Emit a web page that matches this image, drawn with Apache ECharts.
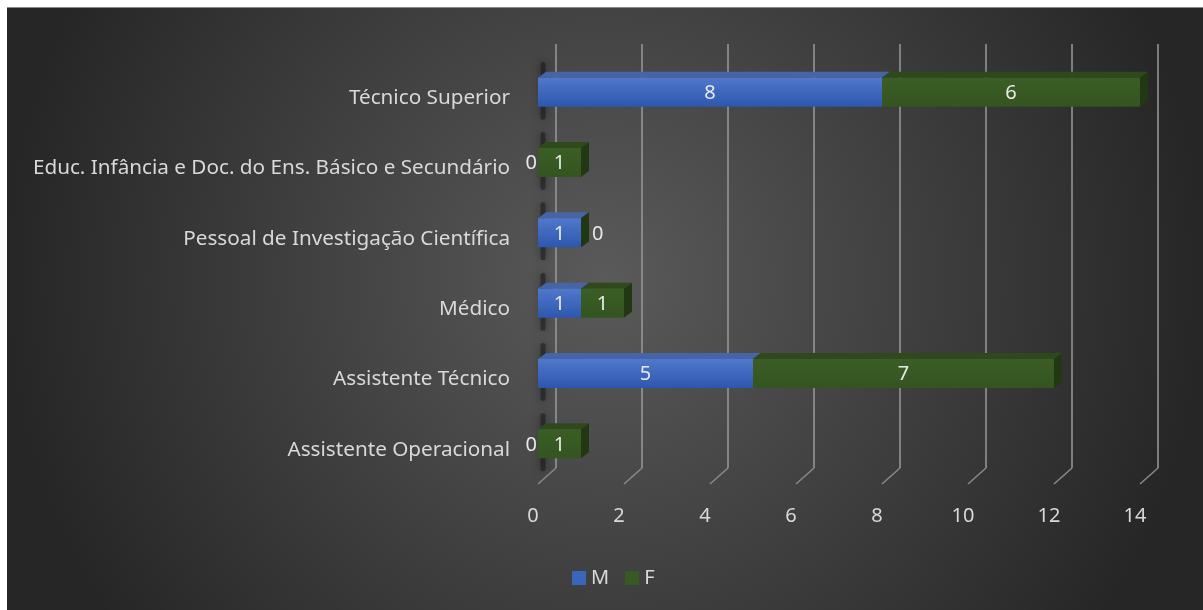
<!DOCTYPE html>
<html>
<head>
<meta charset="utf-8">
<script src="https://cdn.jsdelivr.net/npm/echarts@6/dist/echarts.min.js"></script>
<style>
  html, body { margin: 0; padding: 0; background: #ffffff; }
  #chart { position: absolute; left: 7px; top: 7px; width: 1196px; height: 603px; border-top: 1px solid #8a8a8a; box-sizing: border-box; }
</style>
</head>
<body>
<div id="chart"></div>
<script>
const categories = [
	"Técnico Superior",
	"Educ. Infância e Doc. do Ens. Básico e Secundário",
	"Pessoal de Investigação Científica",
	"Médico",
	"Assistente Técnico",
	"Assistente Operacional"
];
const male = [8, 0, 1, 1, 5, 0];
const female = [6, 1, 0, 1, 7, 1];
const xTicks = [0, 2, 4, 6, 8, 10, 12, 14];

const FONT = "Noto Sans";
const TEXT = "#d9d9d9";
const BAR_H = 29, DX = 8, DY = 6;

const palette = {
	M: { front: ["#5079cc", "#2d56ae"], top: "#4664a6", side: "#27427f" },
	F: { front: ["#3b5e25", "#345420"], top: "#2e4a1c", side: "#223814" }
};

const chart = echarts.init(document.getElementById("chart"));

function barRenderer(name) {
	const c = palette[name];
	return (params, api) => {
		const cat = api.value(0), start = api.value(1), end = api.value(2);
		const p0 = api.coord([start, cat]);
		const p1 = api.coord([end, cat]);
		const x0 = p0[0], x1 = p1[0];
		const yT = p0[1] - BAR_H / 2, yB = p0[1] + BAR_H / 2;
		const value = end - start;
		let label;
		if (value === 0) {
			label = name === "M"
				? { x: x0 - 1, align: "right" }
				: { x: x1 + DX + 3, align: "left" };
		} else {
			label = { x: (x0 + x1) / 2, align: "center" };
		}
		return {
			type: "group",
			children: [
				{ type: "polygon", shape: { points: [[x0, yT], [x1, yT], [x1 + DX, yT - DY], [x0 + DX, yT - DY]] }, style: { fill: c.top } },
				{ type: "polygon", shape: { points: [[x1, yT], [x1 + DX, yT - DY], [x1 + DX, yB - DY], [x1, yB]] }, style: { fill: c.side } },
				{ type: "rect", shape: { x: x0, y: yT, width: x1 - x0, height: BAR_H },
					style: { fill: new echarts.graphic.LinearGradient(0, 0, 0, 1, [{ offset: 0, color: c.front[0] }, { offset: 1, color: c.front[1] }]) } },
				{ type: "text", x: label.x, y: p0[1] + 1,
					style: { text: String(value), fill: "#e8e8e8", font: "20px " + FONT, align: label.align, verticalAlign: "middle" } }
			]
		};
	};
}

const option = {
	backgroundColor: {
		type: "radial", x: 0.5, y: 0.45, r: 1.0,
		colorStops: [{ offset: 0, color: "#5a5a5a" }, { offset: 1, color: "#262626" }]
	},
	animation: false,
	legend: {
		data: ["M", "F"],
		left: 560,
		top: 555,
		itemWidth: 14,
		itemHeight: 14,
		itemGap: 16,
		icon: "rect",
		textStyle: { color: TEXT, fontSize: 20, fontFamily: FONT }
	},
	grid: [
		{ left: 531, top: 49, width: 602, height: 422 },
		{ left: 549, top: 36, width: 602, height: 424 }
	],
	xAxis: [{
		type: "value", gridIndex: 0, min: 0, max: 14, interval: 2,
		axisLine: { show: false }, axisTick: { show: false }, splitLine: { show: false },
		axisLabel: { color: TEXT, fontSize: 20, fontFamily: FONT, margin: 27, padding: [0, 10, 0, 0] }
	}, {
		type: "value", gridIndex: 1, min: 0, max: 14, interval: 2,
		axisLine: { show: false }, axisTick: { show: false }, axisLabel: { show: false },
		splitLine: { show: true, lineStyle: { color: "#9a9a9a", width: 1.5 } }
	}],
	yAxis: [{
		type: "category", gridIndex: 0, data: categories, inverse: true,
		axisLine: { show: false }, axisTick: { show: false },
		axisLabel: { color: TEXT, fontSize: 20.7, fontFamily: FONT, margin: 28, verticalAlign: "top", lineHeight: 12 }
	}, {
		type: "value", gridIndex: 1, show: false
	}],
	series: [
		{
			// sombra na parede esquerda
			type: "custom", name: "wall", xAxisIndex: 0, yAxisIndex: 0, silent: true, z: 1,
			data: categories.map((c, i) => [0, i]),
			encode: { x: 0, y: 1 },
			renderItem: (params, api) => {
				const p = api.coord([0, api.value(1)]);
				return {
					type: "line",
					shape: { x1: p[0] + 5, y1: p[1] - 28, x2: p[0] + 5, y2: p[1] + 25 },
					style: { stroke: "rgba(15,15,15,0.45)", lineWidth: 5, shadowBlur: 10, shadowColor: "rgba(0,0,0,0.9)", lineCap: "round" }
				};
			}
		},
		{
			type: "custom", name: "floor", xAxisIndex: 0, yAxisIndex: 0, silent: true, z: 1,
			data: xTicks.map(v => [v, 0]),
			encode: { x: 0, y: 1 },
			renderItem: (params, api) => {
				const x = api.coord([api.value(0), 0])[0];
				const yb = params.coordSys.y + params.coordSys.height;
				return {
					type: "line",
					shape: { x1: x, y1: yb + 5, x2: x + 18, y2: yb - 11 },
					style: { stroke: "#8a8a8a", lineWidth: 1.5 }
				};
			}
		},
		{
			type: "custom", name: "M", xAxisIndex: 0, yAxisIndex: 0, z: 3,
			itemStyle: { color: "#3a65bd" },
			data: categories.map((c, i) => [i, 0, male[i]]),
			encode: { y: 0, x: [1, 2] },
			renderItem: barRenderer("M")
		},
		{
			type: "custom", name: "F", xAxisIndex: 0, yAxisIndex: 0, z: 4,
			itemStyle: { color: "#375a22" },
			data: categories.map((c, i) => [i, male[i], male[i] + female[i]]),
			encode: { y: 0, x: [1, 2] },
			renderItem: barRenderer("F")
		}
	]
};

chart.setOption(option);
window.onresize = chart.resize;
</script>
</body>
</html>
